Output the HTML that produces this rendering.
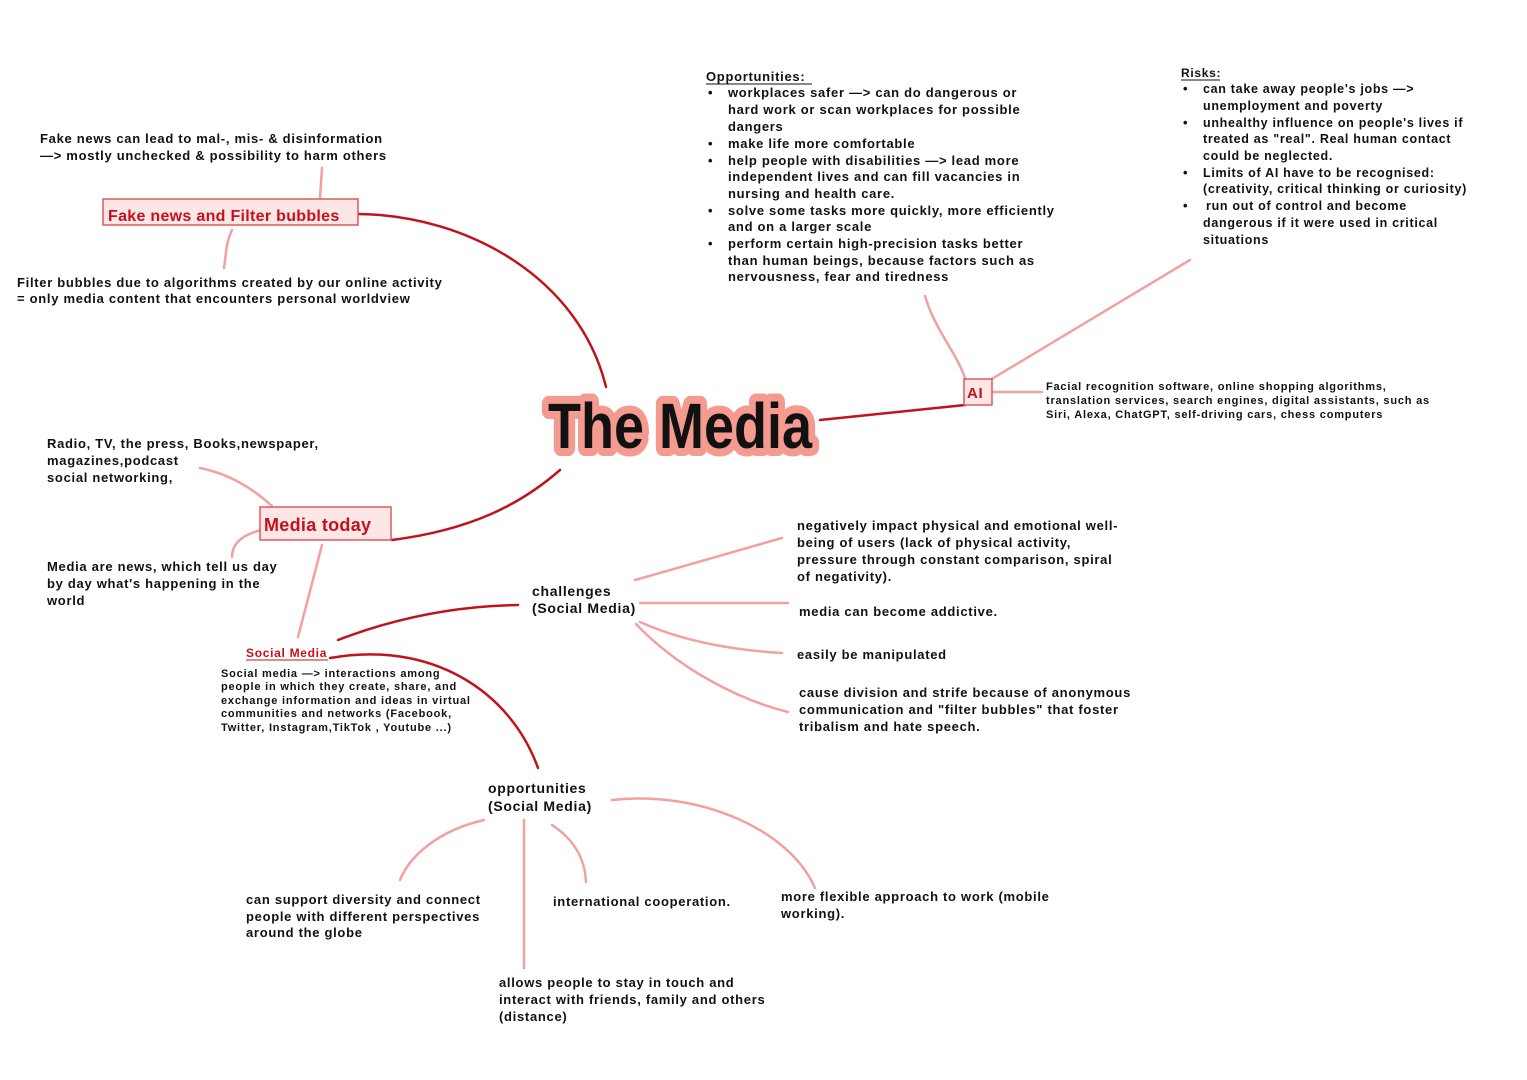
<!DOCTYPE html>
<html><head><meta charset="utf-8"><style>
html,body{margin:0;padding:0;background:#fff}
svg{display:block}
text{font-family:"Liberation Sans",sans-serif;font-size:13px;font-weight:bold;fill:#111;letter-spacing:0.7px}
.s{font-size:11px;letter-spacing:0.8px}
.r{fill:#c8101a}
</style></head><body>
<svg width="1527" height="1080" viewBox="0 0 1527 1080" xmlns="http://www.w3.org/2000/svg">
<g fill="none" stroke-linecap="round">
<path d="M358 214 C470 215 580 280 606 387" stroke="#c0141c" stroke-width="2.5"/>
<path d="M392 540 C470 530 520 505 560 470" stroke="#c0141c" stroke-width="2.5"/>
<path d="M820 420 L965 405" stroke="#c0141c" stroke-width="2.5"/>
<path d="M338 640 C390 620 450 606 518 605" stroke="#c0141c" stroke-width="2.5"/>
<path d="M330 658 C430 640 510 690 538 768" stroke="#c0141c" stroke-width="2.5"/>
<g stroke="#f2a0a0" stroke-width="2.5">
<path d="M322 168 L320 198"/>
<path d="M232 230 C225 245 226 258 224 268"/>
<path d="M200 468 C235 475 260 495 272 506"/>
<path d="M262 530 C240 535 232 545 232 557"/>
<path d="M322 545 L298 637"/>
<path d="M925 296 C935 330 955 350 965 378"/>
<path d="M990 380 L1190 260"/>
<path d="M993 392 L1042 392"/>
<path d="M635 580 L782 538"/>
<path d="M640 603 L788 603"/>
<path d="M640 622 C680 640 730 650 782 653"/>
<path d="M636 624 C680 670 740 700 788 712"/>
<path d="M484 820 C440 830 410 855 400 880"/>
<path d="M524 820 L524 968"/>
<path d="M552 825 C575 840 585 860 586 882"/>
<path d="M612 800 C700 790 790 830 815 888"/>
</g>
</g>
<rect x="103" y="199" width="255" height="26" fill="#fde6e6" stroke="#e05858" stroke-width="1.5"/>
<text x="108" y="221" class="r" style="font-size:16px;letter-spacing:0.3px">Fake news and Filter bubbles</text>
<rect x="260" y="507" width="131" height="33" fill="#fde6e6" stroke="#e05858" stroke-width="1.5"/>
<text x="264" y="531" class="r" style="font-size:18px;letter-spacing:0.3px">Media today</text>
<rect x="964" y="379" width="28" height="26" fill="#fde6e6" stroke="#e05858" stroke-width="1.5"/>
<text x="967" y="398" class="r" style="font-size:15px">AI</text>
<text x="548" y="448" textLength="264" lengthAdjust="spacingAndGlyphs" style="font-size:64px;letter-spacing:0;fill:#f49a8f;stroke:#f49a8f;stroke-width:16px;stroke-linejoin:round">The Media</text>
<text x="548" y="448" textLength="264" lengthAdjust="spacingAndGlyphs" style="font-size:64px;letter-spacing:0;fill:#111">The Media</text>
<text x="40" y="143">Fake news can lead to mal-, mis- &amp; disinformation</text>
<text x="40" y="160">—&gt; mostly unchecked &amp; possibility to harm others</text>
<text x="17" y="287">Filter bubbles due to algorithms created by our online activity</text>
<text x="17" y="303">= only media content that encounters personal worldview</text>
<text x="47" y="448">Radio, TV, the press, Books,newspaper,</text>
<text x="47" y="465">magazines,podcast</text>
<text x="47" y="482">social networking,</text>
<text x="47" y="571">Media are news, which tell us day</text>
<text x="47" y="588">by day what's happening in the</text>
<text x="47" y="605">world</text>
<text x="246" y="657" class="r" style="font-size:12px">Social Media</text>
<line x1="246" y1="660" x2="328" y2="660" stroke="#c0141c" stroke-width="1"/>
<text x="221" y="677" class="s">Social media —&gt; interactions among</text>
<text x="221" y="690" class="s">people in which they create, share, and</text>
<text x="221" y="704" class="s">exchange information and ideas in virtual</text>
<text x="221" y="717" class="s">communities and networks (Facebook,</text>
<text x="221" y="731" class="s">Twitter, Instagram,TikTok , Youtube ...)</text>
<text x="532" y="596" style="font-size:14px">challenges</text>
<text x="532" y="613" style="font-size:14px">(Social Media)</text>
<text x="797" y="530">negatively impact physical and emotional well-</text>
<text x="797" y="547">being of users (lack of physical activity,</text>
<text x="797" y="564">pressure through constant comparison, spiral</text>
<text x="797" y="581">of negativity).</text>
<text x="799" y="616">media can become addictive.</text>
<text x="797" y="659">easily be manipulated</text>
<text x="799" y="697">cause division and strife because of anonymous</text>
<text x="799" y="714">communication and "filter bubbles" that foster</text>
<text x="799" y="731">tribalism and hate speech.</text>
<text x="488" y="793" style="font-size:14px">opportunities</text>
<text x="488" y="811" style="font-size:14px">(Social Media)</text>
<text x="246" y="904">can support diversity and connect</text>
<text x="246" y="921">people with different perspectives</text>
<text x="246" y="937">around the globe</text>
<text x="553" y="906">international cooperation.</text>
<text x="781" y="901">more flexible approach to work (mobile</text>
<text x="781" y="918">working).</text>
<text x="499" y="987">allows people to stay in touch and</text>
<text x="499" y="1004">interact with friends, family and others</text>
<text x="499" y="1021">(distance)</text>
<text x="706" y="81">Opportunities:</text>
<line x1="706" y1="84" x2="812" y2="84" stroke="#111" stroke-width="1"/>
<g>
<text x="708" y="97">•</text><text x="728" y="97">workplaces safer —&gt; can do dangerous or</text>
<text x="728" y="114">hard work or scan workplaces for possible</text>
<text x="728" y="131">dangers</text>
<text x="708" y="148">•</text><text x="728" y="148">make life more comfortable</text>
<text x="708" y="165">•</text><text x="728" y="165">help people with disabilities —&gt; lead more</text>
<text x="728" y="181">independent lives and can fill vacancies in</text>
<text x="728" y="198">nursing and health care.</text>
<text x="708" y="215">•</text><text x="728" y="215">solve some tasks more quickly, more efficiently</text>
<text x="728" y="231">and on a larger scale</text>
<text x="708" y="248">•</text><text x="728" y="248">perform certain high-precision tasks better</text>
<text x="728" y="265">than human beings, because factors such as</text>
<text x="728" y="281">nervousness, fear and tiredness</text>
</g>
<text x="1181" y="77" style="font-size:12px">Risks:</text>
<line x1="1181" y1="80" x2="1220" y2="80" stroke="#111" stroke-width="1"/>
<g>
<text x="1183" y="93">•</text><text x="1203" y="93" style="font-size:12.5px">can take away people's jobs —&gt;</text>
<text x="1203" y="110" style="font-size:12.5px">unemployment and poverty</text>
<text x="1183" y="127">•</text><text x="1203" y="127" style="font-size:12.5px">unhealthy influence on people's lives if</text>
<text x="1203" y="143" style="font-size:12.5px">treated as "real". Real human contact</text>
<text x="1203" y="160" style="font-size:12.5px">could be neglected.</text>
<text x="1183" y="177">•</text><text x="1203" y="177" style="font-size:12.5px">Limits of AI have to be recognised:</text>
<text x="1203" y="193" style="font-size:12.5px">(creativity, critical thinking or curiosity)</text>
<text x="1183" y="210">•</text><text x="1206" y="210" style="font-size:12.5px">run out of control and become</text>
<text x="1203" y="227" style="font-size:12.5px">dangerous if it were used in critical</text>
<text x="1203" y="244" style="font-size:12.5px">situations</text>
</g>
<text x="1046" y="390" class="s">Facial recognition software, online shopping algorithms,</text>
<text x="1046" y="404" class="s">translation services, search engines, digital assistants, such as</text>
<text x="1046" y="418" class="s">Siri, Alexa, ChatGPT, self-driving cars, chess computers</text>
</svg>
</body></html>
